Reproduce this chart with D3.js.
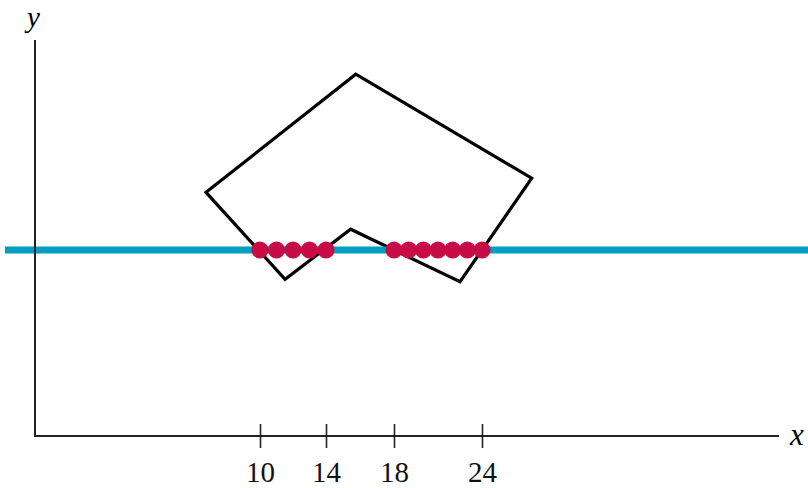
<!DOCTYPE html>
<html>
<head>
<meta charset="utf-8">
<script src="https://cdn.jsdelivr.net/npm/d3@7"></script>
<style>
  body { margin: 0; background: #fff; }
  svg { display: block; }
</style>
</head>
<body>
<div id="chart"></div>
<script>
var width = 808;
var height = 488;

// tick values on the x axis (figure is not drawn to scale)
var tickValues = [10, 14, 18, 24];

// polygon corners, in data units
var polyX = [6.73, 15.75, 27.39, 22.5, 15.45, 11.52];
var polyY = [15.72, 23.34, 16.63, 9.95, 13.34, 10.11];

// height of the horizontal line
var lineY = 12;

// red points on the line
var dotsX = [10, 11, 12, 13, 14, 18, 19, 20, 21, 22, 23, 24];

var x = d3.scaleLinear()
  .domain([10, 14, 18, 24])
  .range([260, 326, 394, 482]);

var y = d3.scaleLinear()
  .domain([0, 12])
  .range([436, 250]);

var svg = d3.select("#chart")
  .append("svg")
  .attr("width", width)
  .attr("height", height);

// axes
svg.append("line")
  .attr("x1", 35).attr("x2", 35)
  .attr("y1", 40).attr("y2", 437)
  .attr("stroke", "#222")
  .attr("stroke-width", 2);

svg.append("line")
  .attr("x1", 34).attr("x2", 779)
  .attr("y1", y(0)).attr("y2", y(0))
  .attr("stroke", "#222")
  .attr("stroke-width", 2);

var xAxis = d3.axisBottom(x)
  .tickValues(tickValues)
  .tickSize(12)
  .tickFormat(d3.format("d"));

var gx = svg.append("g")
  .attr("transform", "translate(0," + y(0) + ")")
  .call(xAxis);

gx.select(".domain").remove();
gx.selectAll(".tick line")
  .attr("y1", -12)
  .attr("stroke", "#222")
  .attr("stroke-width", 1.6);
gx.selectAll(".tick text")
  .attr("y", 0)
  .attr("dy", "46px")
  .attr("fill", "#111")
  .style("font-family", "'Liberation Serif', 'DejaVu Serif', serif")
  .style("font-size", "29px");

svg.append("text")
  .attr("x", 790)
  .attr("y", 445)
  .text("x")
  .style("font-family", "'Liberation Serif', serif")
  .style("font-style", "italic")
  .style("font-size", "31px");

svg.append("text")
  .attr("x", 27)
  .attr("y", 27)
  .text("y")
  .style("font-family", "'Liberation Serif', serif")
  .style("font-style", "italic")
  .style("font-size", "29px");

// polygon
var pts = polyX.map(function (d, i) {
  return [x(d), y(polyY[i])];
});

svg.append("path")
  .attr("d", d3.line()(pts) + "Z")
  .attr("fill", "none")
  .attr("stroke", "#000")
  .attr("stroke-width", 3.2)
  .attr("stroke-linejoin", "miter");

// horizontal line
svg.append("line")
  .attr("x1", 5).attr("x2", width)
  .attr("y1", y(lineY)).attr("y2", y(lineY))
  .attr("stroke", "#009fbf")
  .attr("stroke-width", 7);

// redraw y axis over the blue line
svg.append("line")
  .attr("x1", 35).attr("x2", 35)
  .attr("y1", y(lineY) - 4).attr("y2", y(lineY) + 4)
  .attr("stroke", "#222")
  .attr("stroke-width", 2);

svg.selectAll(".dot")
  .data(dotsX)
  .enter()
  .append("circle")
  .attr("class", "dot")
  .attr("cx", function (d) { return x(d); })
  .attr("cy", y(lineY))
  .attr("r", 8.6)
  .attr("fill", "#c80c46");
</script>
</body>
</html>
